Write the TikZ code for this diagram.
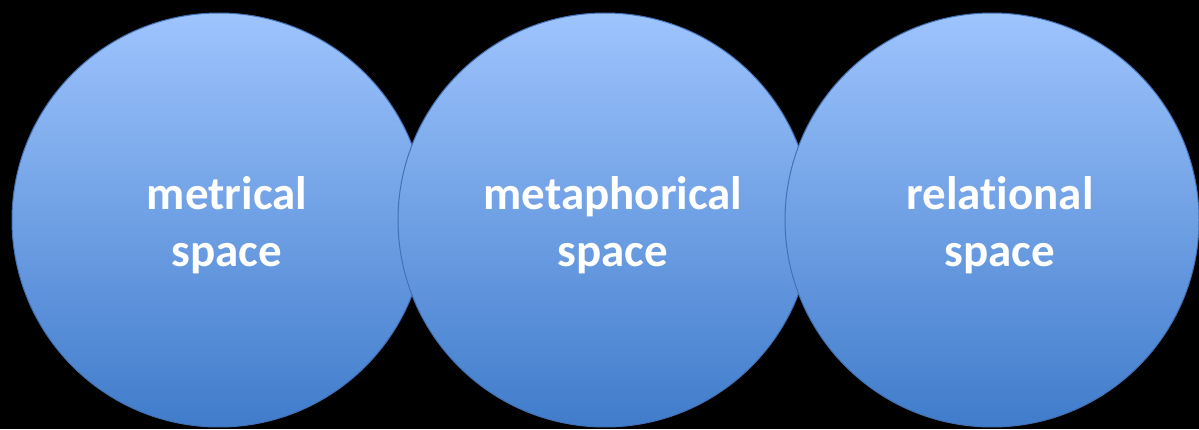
\documentclass[tikz,border=0pt]{standalone}
\usepackage{fontspec}
\setmainfont{Carlito}[Ligatures=NoCommon]
\usepackage{tikz}
\usetikzlibrary{positioning,shadows}
\definecolor{spacetop}{RGB}{158,196,253}
\definecolor{spacebot}{RGB}{64,124,203}
\definecolor{spaceline}{RGB}{66,114,182}

\begin{document}
\begin{tikzpicture}[x=1pt, y=1pt,
    space/.style={circle, draw=spaceline, line width=1pt, top color=spacetop, bottom color=spacebot, minimum size=414pt, inner sep=0pt},
    label/.style={text=white, align=center, font=\fontsize{47}{57}\selectfont\bfseries}
]

% Background
\fill[black] (0,0) rectangle (1199,429);
\useasboundingbox (0,0) rectangle (1199,429);

% Three overlapping spaces
\node[space] (metrical) at (219, 209) {};
\node[space] (metaphorical) at (605, 209) {};
\node[space] (relational) at (992, 209) {};

% Labels
\node[label] (metricaltext) at ([xshift=8pt, yshift=-5pt]metrical.center) {metrical\\space};
\node[label] (metaphoricaltext) at ([xshift=8pt, yshift=-5pt]metaphorical.center) {metaphorical\\space};
\node[label] (relationaltext) at ([xshift=8pt, yshift=-5pt]relational.center) {relational\\space};

\end{tikzpicture}
\end{document}
